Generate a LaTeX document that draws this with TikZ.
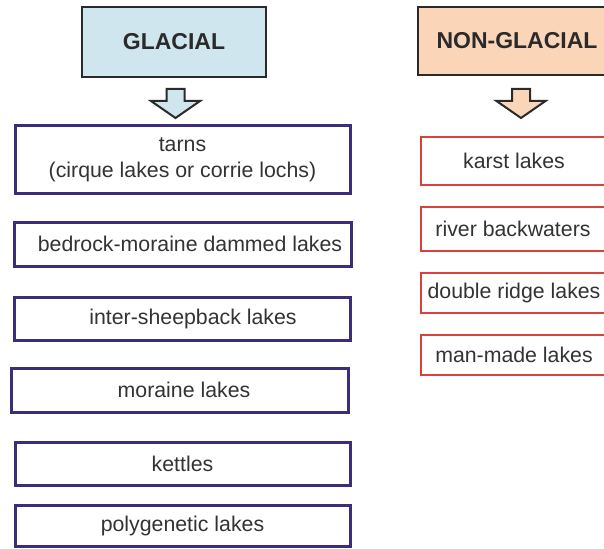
\documentclass[tikz,border=0pt]{standalone}
\usepackage{fontspec}
\setmainfont{Liberation Sans}
\definecolor{glacfill}{HTML}{CFE6EE}
\definecolor{ngfill}{HTML}{FBD5B8}
\definecolor{gline}{HTML}{3D2B7C}
\definecolor{rline}{HTML}{D9413C}
\definecolor{hline}{HTML}{2A2A2A}
\definecolor{txtc}{HTML}{333333}
\begin{document}
\begin{tikzpicture}[x=1pt,y=-1pt,
  header/.style={draw=hline, line width=2.5pt, font=\fontsize{23}{27}\selectfont\bfseries, text=hline, inner sep=0pt},
  gbox/.style={draw=gline, line width=3pt, fill=white, font=\fontsize{21.3}{26}\selectfont, text=txtc, inner sep=0pt, align=center},
  rbox/.style={draw=rline, line width=2.5pt, fill=white, font=\fontsize{21.3}{26}\selectfont, text=txtc, inner sep=0pt, align=center},
  blockarr/.pic={\draw[pic actions, line join=miter] (-9,0) -- (9,0) -- (9,12) -- (24.5,12) -- (0,29) -- (-24.5,12) -- (-9,12) -- cycle;}
]
\useasboundingbox (0,0) rectangle (604,548);
\clip (0,0) rectangle (604,548);
\fill[white] (0,0) rectangle (604,548);

% headers
\node[header, fill=glacfill, minimum width=184pt, minimum height=70pt] (gh) at (174,42) {GLACIAL};
\node[header, fill=ngfill, minimum width=198pt, minimum height=68pt] (nh) at (517,41) {NON-GLACIAL};

% block arrows
\pic[draw=hline, fill=glacfill, line width=2pt] (ga) at (175.5,89) {blockarr};
\pic[draw=hline, fill=ngfill, line width=2pt] (na) at (521,89) {blockarr};

% glacial boxes
\node[gbox, minimum width=335pt, minimum height=67pt] (g1) at (182.5,159.5) {tarns\\(cirque lakes or corrie lochs)};
\node[gbox, minimum width=337pt, minimum height=44pt] (g2) at (182.5,244) {\hspace*{15pt}bedrock-moraine dammed lakes};
\node[gbox, minimum width=336pt, minimum height=43pt] (g3) at (182,318.5) {\hspace*{22pt}inter-sheepback lakes};
\node[gbox, minimum width=337pt, minimum height=44pt] (g4) at (179.5,390) {\hspace*{9pt}moraine lakes};
\node[gbox, minimum width=335pt, minimum height=43pt] (g5) at (182.5,463.5) {kettles};
\node[gbox, minimum width=335pt, minimum height=41pt] (g6) at (182.5,525.5) {polygenetic lakes};

% non-glacial boxes
\node[rbox, minimum width=195pt, minimum height=48pt] (n1) at (518.5,161) {karst lakes\hspace*{9pt}};
\node[rbox, minimum width=195pt, minimum height=44pt] (n2) at (518.5,229) {river backwaters\hspace*{11pt}};
\node[rbox, minimum width=195pt, minimum height=40pt] (n3) at (518.5,293) {double ridge lakes\hspace*{9pt}};
\node[rbox, minimum width=195pt, minimum height=40pt] (n4) at (518.5,355) {man-made lakes\hspace*{9pt}};
\end{tikzpicture}
\end{document}
